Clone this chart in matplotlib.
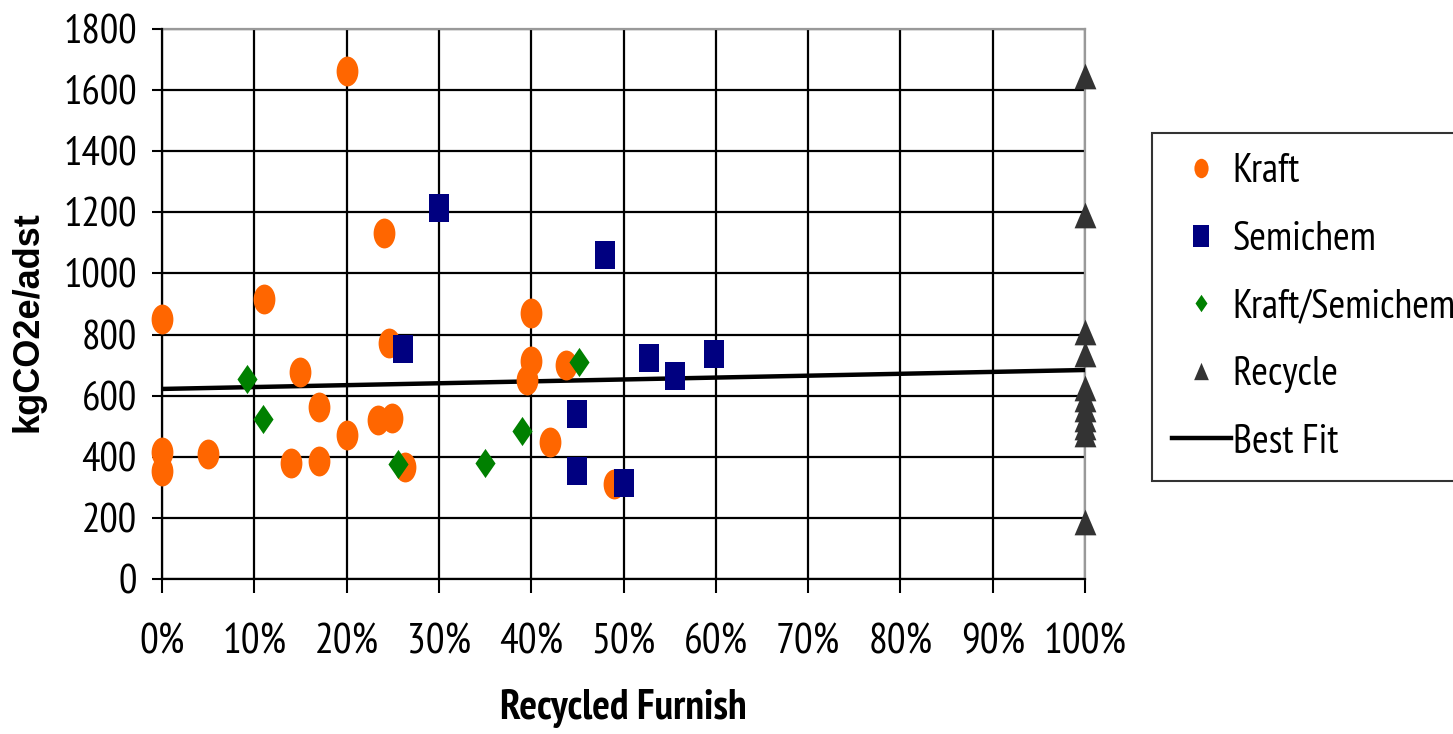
import numpy as np
import matplotlib
matplotlib.use("Agg")
import matplotlib.pyplot as plt
from matplotlib.path import Path
from matplotlib.lines import Line2D
from matplotlib.ticker import FuncFormatter, MultipleLocator

# ---------------- data ----------------
kraft_x = [0, 0, 0, 5, 11, 14, 15, 17, 17, 20, 20, 23.4, 24, 24.6, 24.9, 26.3, 39.5, 40, 40, 42, 43.8, 49]
kraft_y = [850, 415, 355, 408, 918, 380, 677, 563, 385, 1664, 470, 522, 1131, 774, 527, 366, 650, 713, 872, 448, 699, 312]

semichem_x = [30, 48, 26.1, 52.8, 55.6, 59.8, 45, 45, 50]
semichem_y = [1215, 1060, 752, 723, 663, 738, 541, 353, 313]

ks_x = [9.2, 10.9, 25.6, 35, 39, 45.2]
ks_y = [656, 525, 377, 379, 486, 710]

recycle_x = [100] * 11
recycle_y = [1645, 1190, 810, 735, 624, 590, 557, 524, 497, 474, 185]

fit_x = [0, 100]
fit_y = [622, 684]

series_labels = ["Kraft", "Semichem", "Kraft/Semichem", "Recycle", "Best Fit"]
x_label = "Recycled Furnish"
y_label = "kgCO2e/adst"

# ---------------- styling ----------------
NARROW = ["PT Sans Narrow", "Roboto Condensed", "Liberation Sans", "DejaVu Sans"]
plt.rcParams["font.family"] = NARROW

def scaled_path(verts):
    verts = list(verts)
    codes = [Path.MOVETO] + [Path.LINETO] * (len(verts) - 1) + [Path.CLOSEPOLY]
    return Path(verts + [verts[0]], codes)

circ = Path.unit_circle()
ellipse = Path(circ.vertices * np.array([0.73, 1.0]), circ.codes)
rect = scaled_path([(-0.714, -1), (0.714, -1), (0.714, 1), (-0.714, 1)])
diamond = scaled_path([(0, 1), (0.69, 0), (0, -1), (-0.69, 0)])
tri = scaled_path([(0, 1), (-0.85, -1), (0.85, -1)])

c_kraft = "#FF6600"
c_semi = "#000080"
c_ks = "#008000"
c_rec = "#333333"

fig = plt.figure(figsize=(14.53, 7.34), dpi=100)
ax = fig.add_axes([162 / 1453, 1 - 579 / 734, (1085 - 162) / 1453, (579 - 29) / 734])

ax.set_xlim(0, 100)
ax.set_ylim(0, 1800)
ax.xaxis.set_major_locator(MultipleLocator(10))
ax.yaxis.set_major_locator(MultipleLocator(200))
ax.xaxis.set_major_formatter(FuncFormatter(lambda v, p: f"{int(round(v))}%"))

ax.grid(True, color="black", linewidth=1.6, zorder=0)
ax.set_axisbelow(True)

ax.plot(fit_x, fit_y, color="black", linewidth=3.2, zorder=2, solid_capstyle="butt")

ax.plot(kraft_x, kraft_y, linestyle="none", marker=ellipse, markersize=21.5,
        color=c_kraft, markeredgewidth=0, zorder=3, clip_on=False)
ax.plot(semichem_x, semichem_y, linestyle="none", marker=rect, markersize=20,
        color=c_semi, markeredgewidth=0, zorder=4, clip_on=False)
ax.plot(ks_x, ks_y, linestyle="none", marker=diamond, markersize=21,
        color=c_ks, markeredgewidth=0, zorder=5, clip_on=False)
ax.plot(recycle_x, recycle_y, linestyle="none", marker=tri, markersize=18.5,
        color=c_rec, markeredgewidth=0, zorder=5, clip_on=False)

for s in ["left", "bottom"]:
    ax.spines[s].set_color("black")
    ax.spines[s].set_linewidth(1.6)
for s in ["top", "right"]:
    ax.spines[s].set_color("#999999")
    ax.spines[s].set_linewidth(1.6)
    ax.spines[s].set_zorder(1)

ax.tick_params(axis="x", direction="out", length=10, width=1.5, pad=22,
               labelsize=30, color="black")
ax.tick_params(axis="y", direction="out", length=7.2, width=1.5, pad=11,
               labelsize=29.5, color="black")

ax.set_xlabel(x_label, fontsize=30, fontweight="bold", va="center")
ax.xaxis.set_label_coords(0.5, (579 - 709) / 550)
ax.set_ylabel(y_label, fontsize=26, fontweight="bold", va="center",
              family=["Liberation Sans", "DejaVu Sans"])
ax.yaxis.set_label_coords((28 - 162) / 923, 1 - (322 - 29) / 550)

handles = [
    Line2D([], [], linestyle="none", marker=ellipse, markersize=14, color=c_kraft, markeredgewidth=0),
    Line2D([], [], linestyle="none", marker=rect, markersize=16, color=c_semi, markeredgewidth=0),
    Line2D([], [], linestyle="none", marker=diamond, markersize=12.5, color=c_ks, markeredgewidth=0),
    Line2D([], [], linestyle="none", marker=tri, markersize=12.5, color=c_rec, markeredgewidth=0),
    Line2D([], [], color="black", linewidth=3.2),
]
leg = fig.legend(handles, series_labels, loc="upper left",
                 bbox_to_anchor=(1152 / 1453, 1 - 133 / 734), borderaxespad=0,
                 fontsize=29, frameon=True, fancybox=False, edgecolor="black",
                 handlelength=1.45, handletextpad=0.05, labelspacing=0.76,
                 borderpad=0.5)
leg.get_frame().set_linewidth(1.5)

fig.savefig("out.png", dpi=100, facecolor="white")
